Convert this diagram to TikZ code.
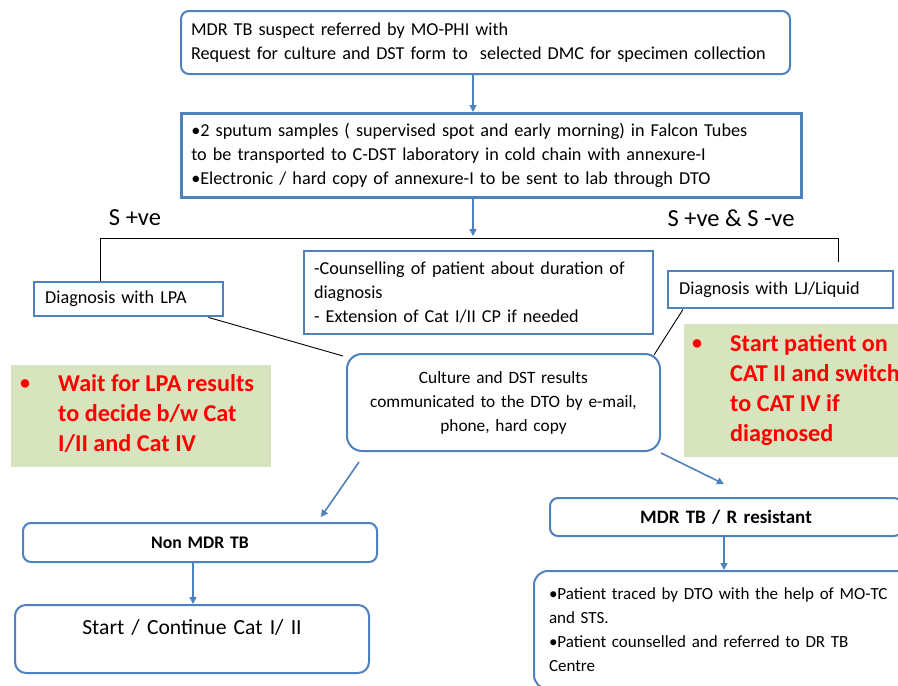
\documentclass[tikz,border=0pt]{standalone}
\usepackage{fontspec}
\setmainfont{Carlito}
\usetikzlibrary{arrows.meta,calc}
\definecolor{tbblue}{RGB}{79,129,189}
\definecolor{tbgreen}{RGB}{215,228,189}
\begin{document}
\begin{tikzpicture}[x=1pt,y=-1pt,
  every node/.style={font=\fontsize{18.2}{24}\selectfont},
  bx/.style={draw=tbblue, line width=2pt, anchor=north west, inner ysep=0pt, inner xsep=10pt, align=left},
  rbx/.style={bx, rounded corners=8pt},
  arr/.style={draw=tbblue, line width=1.6pt, -{Triangle[length=7pt,width=7pt]}},
  blk/.style={draw=black, line width=0.9pt},
  greenbox/.style={fill=tbgreen, anchor=north west, inner sep=0pt},
  redtxt/.style={text=red, font=\fontsize{24.2}{30}\selectfont\bfseries, align=left, anchor=north west, inner sep=0pt},
  bul/.style={text=red, font=\fontsize{20}{30}\selectfont\bfseries, inner sep=0pt},
  lbl/.style={font=\fontsize{24.5}{24}\selectfont, inner sep=0pt}
]
\useasboundingbox (0,0) rectangle (898,686);
\fill[white] (0,0) rectangle (898,686);

% boxes
\node[rbx, text width=589pt, minimum height=63pt] (top) at (180,10)
  {MDR TB suspect referred by MO-PHI with\\Request for culture and DST form to\ \ selected DMC for specimen collection};
\node[bx, line width=2.6pt, text width=600pt, minimum height=84pt] (second) at (180,112)
  {•2 sputum samples ( supervised spot and early morning) in Falcon Tubes\\to be transported to C-DST laboratory in cold chain with annexure-I\\•Electronic / hard copy of annexure-I to be sent to lab through DTO};
\node[bx, line width=2.4pt, inner xsep=11pt, text width=167pt, minimum height=34pt] (lpa) at (33,281) {Diagnosis with LPA};
\node[bx, text width=329pt, minimum height=83pt] (couns) at (303,250)
  {-Counselling of patient about duration of\\diagnosis\\- Extension of Cat I/II CP if needed};
\node[bx, line width=2.4pt, inner xsep=11pt, text width=203pt, minimum height=37pt] (lj) at (667,270) {Diagnosis with LJ/Liquid};
\node[rbx, rounded corners=15pt, align=center, text width=293pt, minimum height=97pt, font=\fontsize{17.3}{24}\selectfont] (center) at (346,353)
  {Culture and DST results\\communicated to the DTO by e-mail,\\phone, hard copy};

% green notes
\node[greenbox, minimum width=260pt, minimum height=102pt] (gl) at (11,365) {};
\node[bul] (glb) at (25,385) {•};
\node[redtxt] (glt) at (58,374) {Wait for LPA results\\to decide b/w Cat\\I/II and Cat IV};
\node[greenbox, minimum width=230pt, minimum height=133pt] (gr) at (684,324) {};
\node[bul] (grb) at (697,345) {•};
\node[redtxt] (grt) at (730,334) {Start patient on\\CAT II and switch\\to CAT IV if\\diagnosed};

% lower boxes
\node[rbx, align=center, text width=334pt, minimum height=39pt, font=\fontsize{17.7}{20}\selectfont\bfseries] (nonmdr) at (22,522) {Non MDR TB};
\node[rbx, rounded corners=11pt, align=center, text width=334pt, minimum height=68pt, text depth=25pt, font=\fontsize{21.6}{24}\selectfont] (startc) at (14,604) {Start / Continue Cat I/ II};
\node[rbx, align=center, text width=332pt, minimum height=38pt, font=\fontsize{19}{20}\selectfont\bfseries] (mdr) at (549,497) {MDR TB / R resistant};
\node[rbx, rounded corners=14pt, inner xsep=15pt, text width=352pt, minimum height=118pt, font=\fontsize{17}{24}\selectfont] (traced) at (533,570)
  {•Patient traced by DTO with the help of MO-TC\\and STS.\\•Patient counselled and referred to DR TB\\Centre};

% labels
\node[lbl] (spos) at (135,218) {S +ve};
\node[lbl] (sboth) at (731,218) {S +ve \& S -ve};

% connectors
\coordinate (ax) at (473,0);
\coordinate (j) at (473,236);
\coordinate (hl) at (100,238);
\coordinate (hr) at (838,238);
\coordinate (hrend) at (838,262);
\coordinate (bx1) at (193,0);
\coordinate (bx2) at (724,0);
\draw[arr] (top.south -| ax) -- (second.north -| ax);
\draw[arr] (second.south -| ax) -- (j);
\draw[blk] (lpa.north -| hl) -- (hl) -- (hr) -- (hrend);
\draw[blk] ($(lpa.south east)+(-16,0)$) -- ($(center.north west)+(-3,3)$);
\draw[blk] ($(lj.south west)+(16,0)$) -- ($(center.north east)+(-7,2)$);
\draw[arr] ($(center.south west)+(13,10)$) -- ($(nonmdr.north)+(121,-5)$);
\draw[arr] ($(center.south east)+(0,1)$) -- ($(mdr.north)+(-2,-13)$);
\draw[arr] (nonmdr.south -| bx1) -- (startc.north -| bx1);
\draw[arr] (mdr.south -| bx2) -- (traced.north -| bx2);
\end{tikzpicture}
\end{document}
